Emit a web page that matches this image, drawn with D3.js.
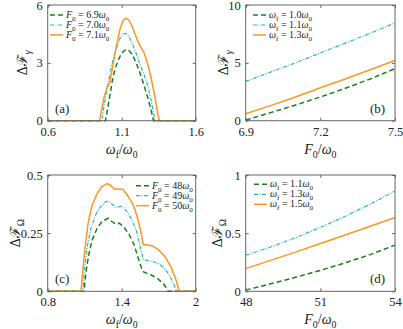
<!DOCTYPE html>
<html>
<head>
<meta charset="utf-8">
<script src="https://cdn.jsdelivr.net/npm/d3@7"></script>
<style>
  body { margin: 0; background: #fff; }
  svg { display: block; }
  text { font-family: "Liberation Serif", "DejaVu Serif", serif; fill: #222; }
</style>
</head>
<body>
<svg id="chart" width="403" height="329"></svg>
<script>
// ---- data ----

// panel (a): Delta F_gamma vs omega_f/omega_0
const aLegendVals = ["6.9", "7.0", "7.1"];
const aX69 = [0.6, 0.99, 1.0, 1.02, 1.04, 1.06, 1.08, 1.10, 1.12, 1.14, 1.16, 1.18, 1.20, 1.22, 1.24, 1.26, 1.28, 1.30, 1.315, 1.6];
const aY69 = [0, 0, 0.4, 1.3, 2.2, 2.8, 3.2, 3.5, 3.65, 3.7, 3.55, 3.3, 2.95, 2.55, 2.1, 1.6, 1.1, 0.5, 0, 0];
const aX70 = [0.6, 0.965, 0.975, 0.99, 1.01, 1.03, 1.05, 1.07, 1.09, 1.11, 1.125, 1.14, 1.16, 1.18, 1.20, 1.22, 1.24, 1.26, 1.28, 1.30, 1.315, 1.325, 1.6];
const aY70 = [0, 0, 0.5, 1.2, 2.0, 2.8, 3.4, 3.9, 4.3, 4.5, 4.53, 4.45, 4.2, 3.85, 3.45, 3.0, 2.6, 2.2, 1.7, 1.0, 0.4, 0, 0];
const aX71 = [0.6, 0.95, 0.96, 0.98, 1.0, 1.02, 1.035, 1.05, 1.07, 1.09, 1.11, 1.13, 1.15, 1.17, 1.19, 1.21, 1.23, 1.25, 1.27, 1.29, 1.31, 1.33, 1.345, 1.355, 1.6];
const aY71 = [0, 0, 0.4, 1.2, 1.7, 2.0, 2.6, 3.3, 4.1, 4.8, 5.2, 5.32, 5.2, 4.9, 4.5, 4.1, 3.8, 3.55, 3.1, 2.5, 1.8, 1.0, 0.3, 0, 0];
const aXTicks = [0.6, 1.1, 1.6];
const aYTicks = [0, 3, 6];

// panel (b): Delta F_gamma vs F_0/omega_0
const bLegendVals = ["1.0", "1.1", "1.3"];
const bX = [6.9, 7.0, 7.1, 7.2, 7.3, 7.4, 7.5];
const bY10 = [0.05, 0.7, 1.35, 2.05, 2.8, 3.6, 4.5];
const bY11 = [3.4, 4.2, 5.0, 5.85, 6.7, 7.55, 8.45];
const bY13 = [0.6, 1.3, 2.05, 2.85, 3.6, 4.4, 5.2];
const bXTicks = [6.9, 7.2, 7.5];
const bYTicks = [0, 5, 10];

// panel (c): Delta F_Omega vs omega_f/omega_0
const cLegendVals = ["48", "49", "50"];
const cX48 = [0.8, 1.094, 1.11, 1.13, 1.16, 1.2, 1.24, 1.29, 1.32, 1.35, 1.38, 1.42, 1.46, 1.5, 1.53, 1.56, 1.575, 1.6, 1.64, 1.69, 1.74, 1.778, 2.0];
const cY48 = [0, 0, 0.08, 0.15, 0.22, 0.27, 0.3, 0.314, 0.3, 0.29, 0.293, 0.275, 0.245, 0.2, 0.15, 0.1, 0.084, 0.078, 0.07, 0.055, 0.032, 0, 0];
const cX49 = [0.8, 1.084, 1.10, 1.12, 1.15, 1.19, 1.23, 1.27, 1.292, 1.32, 1.35, 1.40, 1.44, 1.48, 1.52, 1.55, 1.575, 1.61, 1.66, 1.70, 1.74, 1.78, 1.81, 1.846, 2.0];
const cY49 = [0, 0, 0.1, 0.19, 0.27, 0.33, 0.365, 0.385, 0.388, 0.375, 0.362, 0.365, 0.345, 0.31, 0.26, 0.19, 0.137, 0.132, 0.127, 0.118, 0.102, 0.075, 0.045, 0, 0];
const cX50 = [0.8, 1.07, 1.09, 1.11, 1.13, 1.16, 1.2, 1.24, 1.283, 1.31, 1.34, 1.37, 1.41, 1.45, 1.49, 1.52, 1.55, 1.575, 1.6, 1.65, 1.7, 1.75, 1.8, 1.84, 1.867, 2.0];
const cY50 = [0, 0, 0.12, 0.22, 0.3, 0.37, 0.42, 0.45, 0.463, 0.455, 0.44, 0.44, 0.438, 0.41, 0.375, 0.33, 0.27, 0.2, 0.2, 0.195, 0.178, 0.15, 0.105, 0.05, 0, 0];
const cXTicks = [0.8, 1.4, 2];
const cYTicks = [0, 0.25, 0.5];

// panel (d): Delta F_Omega vs F_0/omega_0
const dLegendVals = ["1.1", "1.3", "1.5"];
const dX = [48, 49, 50, 51, 52, 53, 54];
const dY11 = [0.01, 0.065, 0.12, 0.18, 0.245, 0.315, 0.397];
const dY13 = [0.31, 0.381, 0.461, 0.549, 0.645, 0.749, 0.862];
const dY15 = [0.195, 0.266, 0.337, 0.411, 0.484, 0.56, 0.635];
const dXTicks = [48, 51, 54];
const dYTicks = [0, 0.5, 1];

// ---- styles ----
const styles = [
  { color: "#1e7d1e", dash: "5,3", width: 1.5 },
  { color: "#2cb6b6", dash: "4,1.5,1,1.5", width: 1.2 },
  { color: "#ff961f", dash: null, width: 1.5 }
];

const svg = d3.select("#chart");

// write math text from parts: {t, i (italic), s (subscript)}
function mathText(sel, parts, size) {
  let shifted = false;
  parts.forEach(p => {
    const ts = sel.append("tspan").text(p.t);
    if (p.i) ts.style("font-style", "italic");
    if (p.s) {
      ts.style("font-size", (size * 0.7) + "px");
      if (!shifted) { ts.attr("dy", size * 0.28); shifted = true; }
    } else {
      ts.style("font-size", size + "px");
      if (shifted) { ts.attr("dy", -size * 0.28); shifted = false; }
    }
  });
  return sel;
}

function drawPanel(p) {
  const x = d3.scaleLinear().domain(p.xDomain).range([p.left, p.right]);
  const y = d3.scaleLinear().domain(p.yDomain).range([p.bottom, p.top]);
  const g = svg.append("g");

  // curves
  const line = d3.line().x(d => x(d[0])).y(d => y(d[1]));
  p.series.forEach((s, i) => {
    const pts = s.xs.map((v, k) => [v, s.ys[k]]);
    const st = styles[i];
    g.append("path")
      .datum(pts)
      .attr("d", line)
      .attr("fill", "none")
      .attr("stroke", st.color)
      .attr("stroke-width", st.width)
      .attr("stroke-dasharray", st.dash);
  });

  // axes with inward ticks
  const fmt = d => String(d);
  g.append("g")
    .attr("transform", `translate(0,${p.bottom})`)
    .call(d3.axisBottom(x).tickValues(p.xTicks).tickSize(-3).tickPadding(6).tickFormat(fmt))
    .call(a => a.select(".domain").remove())
    .call(a => a.selectAll("line").attr("stroke", "#666"))
    .call(a => a.selectAll("text").attr("font-family", null).style("font-size", "12.5px").attr("fill", "#222"));
  g.append("g")
    .attr("transform", `translate(${p.left},0)`)
    .call(d3.axisLeft(y).tickValues(p.yTicks).tickSize(-3).tickPadding(5).tickFormat(fmt))
    .call(a => a.select(".domain").remove())
    .call(a => a.selectAll("line").attr("stroke", "#666"))
    .call(a => a.selectAll("text").attr("font-family", null).style("font-size", "12.5px").attr("fill", "#222"));
  g.append("g")
    .attr("transform", `translate(0,${p.top})`)
    .call(d3.axisTop(x).tickValues(p.xTicks).tickSize(-3).tickFormat(""))
    .call(a => a.select(".domain").remove())
    .call(a => a.selectAll("line").attr("stroke", "#666"));
  g.append("g")
    .attr("transform", `translate(${p.right},0)`)
    .call(d3.axisRight(y).tickValues(p.yTicks).tickSize(-3).tickFormat(""))
    .call(a => a.select(".domain").remove())
    .call(a => a.selectAll("line").attr("stroke", "#666"));

  // box
  g.append("rect")
    .attr("x", p.left).attr("y", p.top)
    .attr("width", p.right - p.left).attr("height", p.bottom - p.top)
    .attr("fill", "none").attr("stroke", "#666").attr("stroke-width", 1);

  // axis labels
  mathText(g.append("text")
    .attr("x", (p.left + p.right) / 2).attr("y", p.bottom + 33)
    .attr("text-anchor", "middle"), p.xLabel, 14);
  mathText(g.append("text")
    .attr("transform", `translate(${p.yLabelX},${(p.top + p.bottom) / 2}) rotate(-90)`)
    .attr("text-anchor", "middle"), p.yLabel, 14);

  // panel tag
  g.append("text")
    .attr("x", p.tagX).attr("y", p.bottom - 8)
    .style("font-size", "13px")
    .text(p.tag);

  // legend
  p.legend.forEach((lab, i) => {
    const ly = p.legendY + i * 10;
    const st = styles[i];
    g.append("line")
      .attr("x1", p.legendX).attr("x2", p.legendX + 13)
      .attr("y1", ly).attr("y2", ly)
      .attr("stroke", st.color).attr("stroke-width", st.width)
      .attr("stroke-dasharray", st.dash);
    mathText(g.append("text")
      .attr("x", p.legendX + 16).attr("y", ly + 3), lab, 10);
  });
}

const wfOverW0 = [{ t: "ω", i: true }, { t: "f", s: true }, { t: "/" }, { t: "ω", i: true }, { t: "0", s: true }];
const F0OverW0 = [{ t: "F", i: true }, { t: "0", s: true }, { t: "/" }, { t: "ω", i: true }, { t: "0", s: true }];
const dFgamma = [{ t: "Δℱ" }, { t: "γ", i: true, s: true }];
const dFOmega = [{ t: "Δℱ" }, { t: "Ω", s: true }];
const f0Label = v => [{ t: "F", i: true }, { t: "0", s: true }, { t: " = " + v }, { t: "ω", i: true }, { t: "0", s: true }];
const wfLabel = v => [{ t: "ω", i: true }, { t: "f", s: true }, { t: " = " + v }, { t: "ω", i: true }, { t: "0", s: true }];

const L1 = 47.7, R1 = 195.7, L2 = 245.7, R2 = 395;
const T1 = 5, B1 = 120.7, T2 = 175, B2 = 291.3;

drawPanel({
  left: L1, right: R1, top: T1, bottom: B1,
  xDomain: [0.6, 1.6], yDomain: [0, 6], xTicks: aXTicks, yTicks: aYTicks,
  series: [{ xs: aX69, ys: aY69 }, { xs: aX70, ys: aY70 }, { xs: aX71, ys: aY71 }],
  xLabel: wfOverW0, yLabel: dFgamma, yLabelX: 27,
  tag: "(a)", tagX: 55,
  legend: aLegendVals.map(f0Label), legendX: 50, legendY: 15
});
drawPanel({
  left: L2, right: R2, top: T1, bottom: B1,
  xDomain: [6.9, 7.5], yDomain: [0, 10], xTicks: bXTicks, yTicks: bYTicks,
  series: [{ xs: bX, ys: bY10 }, { xs: bX, ys: bY11 }, { xs: bX, ys: bY13 }],
  xLabel: F0OverW0, yLabel: dFgamma, yLabelX: 228,
  tag: "(b)", tagX: 370,
  legend: bLegendVals.map(wfLabel), legendX: 253, legendY: 15
});
drawPanel({
  left: L1, right: R1, top: T2, bottom: B2,
  xDomain: [0.8, 2], yDomain: [0, 0.5], xTicks: cXTicks, yTicks: cYTicks,
  series: [{ xs: cX48, ys: cY48 }, { xs: cX49, ys: cY49 }, { xs: cX50, ys: cY50 }],
  xLabel: wfOverW0, yLabel: dFOmega, yLabelX: 20,
  tag: "(c)", tagX: 55,
  legend: cLegendVals.map(f0Label), legendX: 136, legendY: 185.7
});
drawPanel({
  left: L2, right: R2, top: T2, bottom: B2,
  xDomain: [48, 54], yDomain: [0, 1], xTicks: dXTicks, yTicks: dYTicks,
  series: [{ xs: dX, ys: dY11 }, { xs: dX, ys: dY13 }, { xs: dX, ys: dY15 }],
  xLabel: F0OverW0, yLabel: dFOmega, yLabelX: 222,
  tag: "(d)", tagX: 370,
  legend: dLegendVals.map(wfLabel), legendX: 254, legendY: 184.3
});
</script>
</body>
</html>
